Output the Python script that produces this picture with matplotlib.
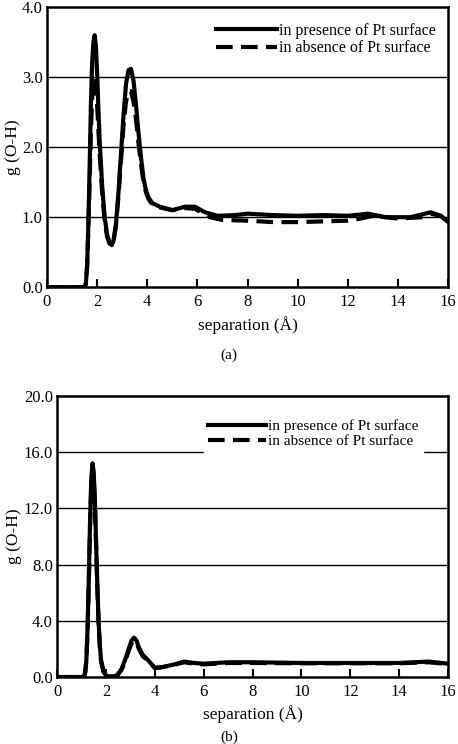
import numpy as np
import matplotlib
matplotlib.use('Agg')
import matplotlib.pyplot as plt

plt.rcParams['font.family'] = ['Liberation Serif', 'DejaVu Serif']

# (a) g(O-H)
ra_pres = [0, 1.5, 1.55, 1.6, 1.65, 1.7, 1.75, 1.8, 1.85, 1.9, 1.95, 2.0, 2.05, 2.1, 2.2, 2.3,
           2.4, 2.5, 2.58, 2.65, 2.75, 2.85, 2.95, 3.05, 3.15, 3.25, 3.35, 3.45, 3.55, 3.65,
           3.75, 3.85, 3.95, 4.05, 4.2, 4.5, 5.0, 5.5, 5.9, 6.3, 6.8, 7.5, 8.0, 9.0, 10.0,
           11.0, 12.0, 12.8, 13.5, 14.5, 15.3, 15.7, 16.0]
ga_pres = [0, 0, 0.05, 0.3, 0.9, 1.7, 2.6, 3.2, 3.5, 3.6, 3.45, 3.05, 2.55, 2.1, 1.45, 1.0,
           0.75, 0.63, 0.6, 0.66, 0.9, 1.35, 1.9, 2.45, 2.9, 3.1, 3.12, 2.95, 2.6, 2.2,
           1.85, 1.55, 1.38, 1.28, 1.2, 1.15, 1.1, 1.15, 1.15, 1.07, 1.02, 1.03, 1.05, 1.03, 1.02,
           1.03, 1.02, 1.05, 1.0, 1.0, 1.07, 1.02, 0.93]
ra_abs = [0, 1.5, 1.55, 1.6, 1.65, 1.7, 1.75, 1.8, 1.85, 1.9, 1.95, 2.0, 2.05, 2.1, 2.2, 2.3,
          2.4, 2.5, 2.58, 2.65, 2.75, 2.85, 2.95, 3.05, 3.15, 3.25, 3.35, 3.45, 3.55, 3.65,
          3.75, 3.85, 3.95, 4.05, 4.2, 4.5, 5.0, 5.5, 5.9, 6.5, 7.0, 8.0, 9.0, 10.0,
          11.0, 12.0, 12.5, 13.0, 14.0, 15.0, 15.3, 15.7, 16.0]
ga_abs = [0, 0, 0.05, 0.3, 0.85, 1.5, 2.2, 2.7, 2.95, 3.0, 2.9, 2.6, 2.25, 1.9, 1.35, 0.95,
          0.72, 0.62, 0.6, 0.65, 0.88, 1.3, 1.8, 2.3, 2.65, 2.8, 2.8, 2.65, 2.4, 2.05,
          1.75, 1.5, 1.35, 1.26, 1.18, 1.14, 1.1, 1.13, 1.12, 1.0, 0.96, 0.95, 0.93, 0.93,
          0.94, 0.95, 0.98, 1.02, 0.98, 1.0, 1.05, 1.02, 0.93]

# (b) g(O-H)
rb_pres = [0, 1.1, 1.15, 1.2, 1.25, 1.3, 1.35, 1.4, 1.45, 1.5, 1.55, 1.6, 1.65, 1.7, 1.75, 1.8,
           1.9, 2.0, 2.1, 2.4, 2.5, 2.65, 2.8, 2.95, 3.05, 3.15, 3.25, 3.35, 3.5, 3.7, 3.85, 4.0,
           4.3, 4.8, 5.2, 5.6, 6.0, 6.5, 7.0, 8.0, 10.0, 12.0, 14.0, 15.2, 16.0]
gb_pres = [0, 0, 0.3, 1.2, 3.5, 7.0, 11.0, 14.0, 15.2, 14.6, 12.5, 9.5, 6.5, 4.0, 2.3, 1.2,
           0.4, 0.12, 0.05, 0.05, 0.2, 0.6, 1.3, 2.1, 2.6, 2.8, 2.6, 2.1, 1.6, 1.25, 0.95, 0.65,
           0.7, 0.9, 1.1, 1.0, 0.95, 1.0, 1.05, 1.05, 1.0, 1.0, 1.0, 1.1, 0.95]
rb_abs = [0, 1.1, 1.15, 1.2, 1.25, 1.3, 1.35, 1.4, 1.45, 1.5, 1.55, 1.6, 1.65, 1.7, 1.75, 1.8,
          1.9, 2.0, 2.1, 2.4, 2.5, 2.65, 2.8, 2.95, 3.05, 3.15, 3.25, 3.35, 3.5, 3.7, 3.85, 4.0,
          4.3, 4.8, 5.2, 5.6, 6.0, 6.5, 7.0, 8.0, 10.0, 12.0, 14.0, 15.2, 16.0]
gb_abs = [0, 0, 0.3, 1.1, 3.3, 6.7, 10.6, 13.6, 14.8, 14.2, 12.2, 9.2, 6.3, 3.9, 2.2, 1.15,
          0.4, 0.12, 0.05, 0.05, 0.2, 0.55, 1.2, 1.95, 2.4, 2.6, 2.45, 2.0, 1.5, 1.2, 0.92, 0.65,
          0.7, 0.88, 1.05, 0.95, 0.9, 0.95, 1.0, 1.0, 0.98, 0.98, 0.98, 1.05, 0.92]

lab_pres = 'in presence of Pt surface'
lab_abs = 'in absence of Pt surface'

fig = plt.figure(figsize=(4.58, 7.44), dpi=100)
ax1 = fig.add_axes([0.1026, 0.614, 0.876, 0.3763])
ax2 = fig.add_axes([0.1245, 0.090, 0.854, 0.378])


def style(ax, yticks, ylim):
    ax.set_xlim(0, 16)
    ax.set_ylim(*ylim)
    ax.set_xticks(range(0, 17, 2))
    ax.set_yticks(yticks)
    ax.set_yticklabels([f'{v:.1f}' for v in yticks])
    for v in yticks[1:-1]:
        ax.axhline(v, color='black', linewidth=1.0, zorder=1)
    for s in ax.spines.values():
        s.set_linewidth(1.8)
    ax.tick_params(axis='x', direction='in', length=6, width=1.5, labelsize=12, pad=5)
    ax.tick_params(axis='y', direction='in', length=0, labelsize=12, pad=3)
    ax.set_xlabel('separation (Å)', fontsize=12.5, labelpad=4)
    ax.set_ylabel('g (O-H)', fontsize=12.5, labelpad=1)


ax1.plot(ra_abs, ga_abs, color='black', linewidth=3, linestyle=(0, (4, 2)), zorder=3, label=lab_abs)
ax1.plot(ra_pres, ga_pres, color='black', linewidth=3, zorder=4, label=lab_pres)
style(ax1, [0, 1, 2, 3, 4], (0, 4))

ax2.plot(rb_abs, gb_abs, color='black', linewidth=3, linestyle=(0, (4, 2)), zorder=3, label=lab_abs)
ax2.plot(rb_pres, gb_pres, color='black', linewidth=3, zorder=4, label=lab_pres)
style(ax2, [0, 4, 8, 12, 16, 20], (0, 20))

for ax, loc, fs in [(ax1, (1.0, 0.99), 11.5), (ax2, (0.955, 0.96), 11)]:
    h, l = ax.get_legend_handles_labels()
    leg = ax.legend(h[::-1], l[::-1], loc='upper right', bbox_to_anchor=loc, frameon=True,
                    fontsize=fs, handlelength=3.8, handletextpad=0.1, labelspacing=0.1,
                    borderpad=0.3, fancybox=False)
    leg.get_frame().set_edgecolor('white')
    leg.get_frame().set_facecolor('white')
    leg.get_frame().set_alpha(1)
    leg.set_zorder(5)

fig.text(0.5, 1 - 355 / 744, '(a)', ha='center', va='center', fontsize=11)
fig.text(0.5, 0.0, '(b)', ha='center', va='bottom', fontsize=11)

fig.savefig('out.png', dpi=100)
